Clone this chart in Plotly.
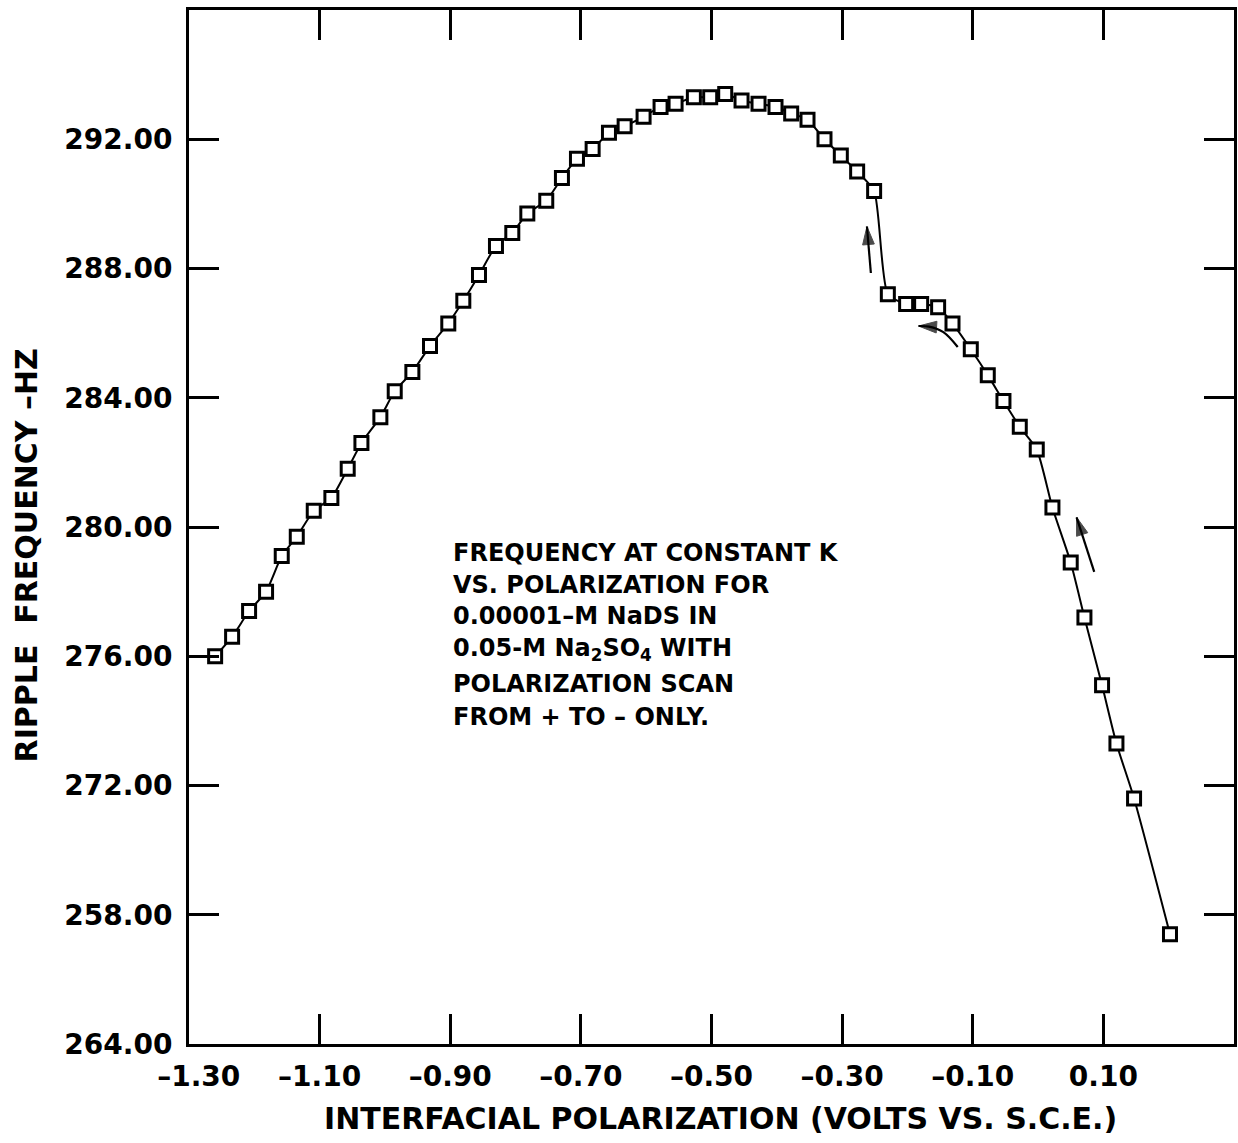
import plotly.graph_objects as go

# Interfacial polarization (V vs. S.C.E.)
polarization = [
    -1.260, -1.234, -1.208, -1.182, -1.158, -1.135, -1.109, -1.082, -1.057, -1.036,
    -1.007, -0.985, -0.958, -0.931, -0.903, -0.880, -0.856, -0.830, -0.805, -0.782,
    -0.753, -0.729, -0.706, -0.682, -0.657, -0.633, -0.604, -0.578, -0.555, -0.527,
    -0.502, -0.479, -0.454, -0.428, -0.402, -0.378, -0.353, -0.327, -0.302, -0.277,
    -0.251, -0.230, -0.202, -0.179, -0.153, -0.131, -0.103, -0.077, -0.053, -0.028,
    -0.002, 0.022, 0.050, 0.071, 0.098, 0.120, 0.147, 0.202,
]

# Ripple frequency (Hz)
frequency = [
    276.0, 276.6, 277.4, 278.0, 279.1, 279.7, 280.5, 280.9, 281.8, 282.6,
    283.4, 284.2, 284.8, 285.6, 286.3, 287.0, 287.8, 288.7, 289.1, 289.7,
    290.1, 290.8, 291.4, 291.7, 292.2, 292.4, 292.7, 293.0, 293.1, 293.3,
    293.3, 293.4, 293.2, 293.1, 293.0, 292.8, 292.6, 292.0, 291.5, 291.0,
    290.4, 287.2, 286.9, 286.9, 286.8, 286.3, 285.5, 284.7, 283.9, 283.1,
    282.4, 280.6, 278.9, 277.2, 275.1, 273.3, 271.6, 267.4,
]

x_tick_vals = [-1.30, -1.10, -0.90, -0.70, -0.50, -0.30, -0.10, 0.10]
x_tick_text = ["\u00a0\u00a0–1.30", "–1.10", "–0.90", "–0.70", "–0.50", "–0.30", "–0.10", "0.10"]
y_tick_vals = [264, 268, 272, 276, 280, 284, 288, 292]
y_tick_text = ["264.00", "258.00", "272.00", "276.00", "280.00", "284.00", "288.00", "292.00"]

note_lines = [
    "FREQUENCY AT CONSTANT K",
    "VS. POLARIZATION FOR",
    "0.00001–M NaDS IN",
    "0.05-M Na<sub>2</sub>SO<sub>4</sub> WITH",
    "POLARIZATION SCAN",
    "FROM + TO – ONLY.",
]

# scan-direction arrows, each a path from tail to head
arrow_paths = [
    ([-0.256, -0.262], [287.86, 289.30]),
    ([0.086, 0.059], [278.61, 280.30]),
    ([-0.123, -0.145, -0.167, -0.183], [285.57, 286.03, 286.20, 286.22]),
]

FONT = "DejaVu Sans"

fig = go.Figure()
fig.add_trace(go.Scatter(
    x=polarization, y=frequency, mode="lines+markers",
    line=dict(color="black", width=2, shape="spline", smoothing=0.6),
    marker=dict(symbol="square", size=13, color="white",
                line=dict(color="black", width=3)),
    showlegend=False, hoverinfo="skip",
))

for ax_, ay_ in arrow_paths:
    n = len(ax_)
    fig.add_trace(go.Scatter(
        x=ax_, y=ay_, mode="lines+markers",
        line=dict(color="black", width=2.2, shape="spline"),
        marker=dict(symbol=["circle"] * (n - 1) + ["arrow"],
                    size=[0] * (n - 1) + [19], color="black",
                    angleref="previous", line=dict(color="black", width=1)),
        showlegend=False, hoverinfo="skip",
    ))

axis_common = dict(
    showline=True, linewidth=3, linecolor="black", mirror="ticks",
    ticks="inside", ticklen=30, tickwidth=2.5, tickcolor="black",
    showgrid=False, zeroline=False,
    tickfont=dict(family=FONT, size=28, color="black", weight="bold"),
)

fig.update_xaxes(range=[-1.30, 0.30], tickmode="array", tickvals=x_tick_vals,
                 ticktext=x_tick_text, ticklabelstandoff=5, **axis_common)
fig.update_yaxes(range=[264, 296], tickmode="array", tickvals=y_tick_vals,
                 ticktext=y_tick_text, ticklabelstandoff=8, **axis_common)

annotations = []
line_y = [0.4749, 0.4439, 0.4139, 0.3820, 0.3482, 0.3162]
for txt, yy in zip(note_lines, line_y):
    annotations.append(dict(
        text=txt, xref="paper", yref="paper", x=0.251, y=yy,
        xanchor="left", yanchor="middle", showarrow=False,
        font=dict(family=FONT, size=24, color="black", weight="bold"),
    ))

annotations.append(dict(
    text="INTERFACIAL POLARIZATION (VOLTS VS. S.C.E.)",
    xref="paper", yref="paper", x=0.5086, y=-0.0725,
    xanchor="center", yanchor="middle", showarrow=False,
    font=dict(family=FONT, size=30, color="black", weight="bold"),
))
annotations.append(dict(
    text="RIPPLE  FREQUENCY –HZ",
    xref="paper", yref="paper", x=-0.1555, y=0.472, textangle=-90,
    xanchor="center", yanchor="middle", showarrow=False,
    font=dict(family=FONT, size=30, color="black", weight="bold"),
))

fig.update_layout(
    width=1238, height=1143,
    margin=dict(l=189, r=1, t=10, b=99),
    paper_bgcolor="white", plot_bgcolor="white",
    annotations=annotations,
    font=dict(family=FONT, color="black"),
)

fig.write_html("out.html")
